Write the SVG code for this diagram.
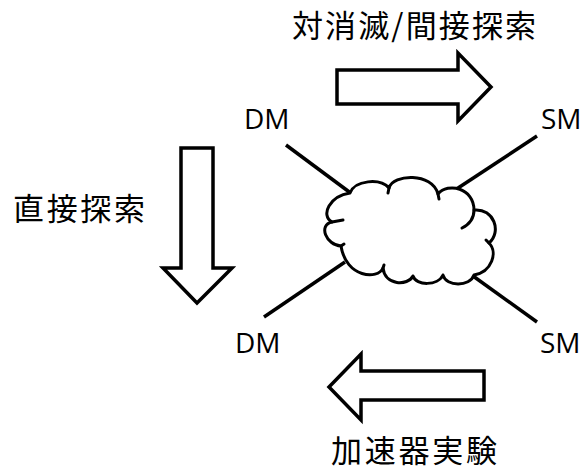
<svg xmlns="http://www.w3.org/2000/svg" width="583" height="470" viewBox="0 0 583 470">
<style>
.cjk{font-family:"Noto Sans CJK JP","Noto Sans",sans-serif;font-size:31px;fill:#000}
.lat{font-family:"Open Sans","Liberation Sans",sans-serif;font-size:28px;fill:#000}
.arrow{fill:#fff;stroke:#000;stroke-width:3.5;stroke-linejoin:miter}
.leg{stroke:#000;stroke-width:3.5;fill:none;stroke-linecap:butt}
.cloud{fill:#fff;stroke:#000;stroke-width:3;stroke-linejoin:round}
.hook{fill:none;stroke:#000;stroke-width:3;stroke-linecap:round}
</style>
<rect width="583" height="470" fill="#fff"/>
<g id="connectors">
<line class="leg" x1="286" y1="145" x2="352" y2="194"/>
<line class="leg" x1="537" y1="136" x2="452" y2="192"/>
<line class="leg" x1="264" y1="317" x2="345" y2="262"/>
<line class="leg" x1="537" y1="322" x2="473" y2="276"/>
</g>
<g id="cloud">
<path class="cloud" d="M350,193 C355,180 380,178 389,188 C393,174 432,172 438,194 C448,182 474,188 474,210 C494,208 502,232 489,243 C498,252 492,272 474,275 C470,287 446,287 443,275 C438,286 416,286 413,276 C408,286 385,286 383,268 C378,280 346,278 341,246 C326,245 318,225 332,222 C320,215 330,196 350,193 Z"/>
<path class="hook" d="M474,210 C474,218 470,224 462,228"/>
<path class="hook" d="M332,222 L343,220"/>
<path class="hook" d="M389,188 L388,193"/>
<path class="hook" d="M438,194 L439,199"/>
<path class="hook" d="M489,243 L486,240"/>
<path class="hook" d="M383,268 L384,265"/>
<path class="hook" d="M341,246 L344,244"/>
</g>
<g id="arrow-annihilation">
<polygon class="arrow" points="337,70 458,70 458,53 491,87 458,121 458,104 337,104"/>
<text class="cjk" x="292" y="37" textLength="244" lengthAdjust="spacing">対消滅/間接探索</text>
</g>
<g id="arrow-direct">
<polygon class="arrow" points="181,148 213,148 213,268 232,268 197,303 163,268 181,268"/>
<text class="cjk" x="13" y="220" textLength="132" lengthAdjust="spacing">直接探索</text>
</g>
<g id="arrow-accelerator">
<polygon class="arrow" points="484,371 361,371 361,354 329,387 361,420 361,400 484,400"/>
<text class="cjk" x="331" y="462" textLength="166" lengthAdjust="spacing">加速器実験</text>
</g>
<g id="dm-top"><text class="lat" x="244" y="129">DM</text></g>
<g id="sm-top"><text class="lat" x="541" y="129">SM</text></g>
<g id="dm-bottom"><text class="lat" x="235" y="353">DM</text></g>
<g id="sm-bottom"><text class="lat" x="540" y="353">SM</text></g>
</svg>
